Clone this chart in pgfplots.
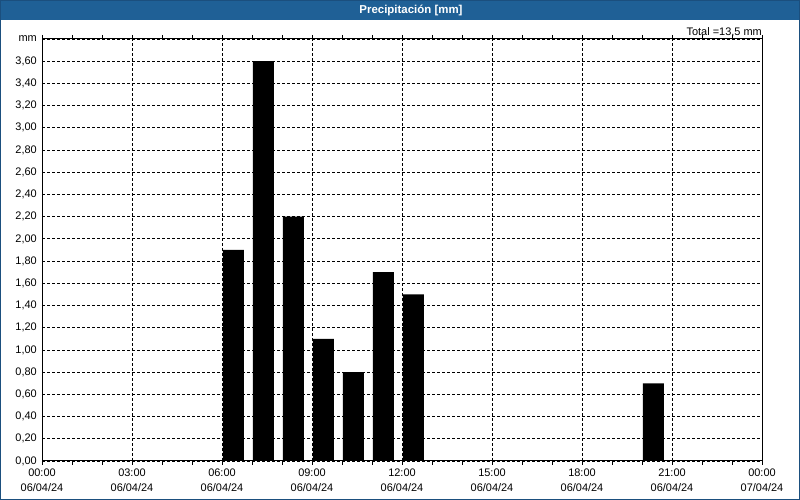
\documentclass[border=0pt]{standalone}
\usepackage{pgfplots}
\pgfplotsset{compat=1.18}
\usepackage{fontspec}
\setmainfont{Liberation Sans}
\definecolor{titlebar}{HTML}{1F6096}
\definecolor{framec}{HTML}{1B4F7E}
\begin{document}
\begin{tikzpicture}[x=1bp,y=1bp]
\path[use as bounding box] (0,0) rectangle (800,500);
\fill[white] (0,0) rectangle (800,500);
\fill[titlebar] (0,480) rectangle (800,500);
\draw[framec,line width=1bp] (0.5,0.5) rectangle (799.5,499.5);
\node[text=white,font=\fontsize{11.5}{13}\selectfont\bfseries] at (411,490) {Precipitación [mm]};
\node[anchor=east,font=\fontsize{11}{13}\selectfont,inner sep=0pt] at (762,468) {Total =13,5 mm};
\begin{axis}[
  at={(42bp,39bp)}, anchor=south west,
  scale only axis, width=720bp, height=422bp,
  xmin=0, xmax=24, ymin=0, ymax=3.8,
  xtick={0,3,...,24},
  xticklabels={{00:00\\06/04/24},{03:00\\06/04/24},{06:00\\06/04/24},{09:00\\06/04/24},{12:00\\06/04/24},{15:00\\06/04/24},{18:00\\06/04/24},{21:00\\06/04/24},{00:00\\07/04/24}},
  xticklabel style={align=center,font=\fontsize{11}{15}\selectfont,inner sep=1pt,yshift=-3bp},
  minor x tick num=2,
  ytick={0,0.2,...,3.81},
  yticklabels={{0,00},{0,20},{0,40},{0,60},{0,80},{1,00},{1,20},{1,40},{1,60},{1,80},{2,00},{2,20},{2,40},{2,60},{2,80},{3,00},{3,20},{3,40},{3,60},{mm}},
  yticklabel style={font=\fontsize{11}{13}\selectfont,inner sep=1pt},
  /pgf/number format/assume math mode=true,
  tick align=outside,
  major tick length=4bp, minor tick length=4bp,
  ytick style={draw=none},
  xtick style={black,line width=0.8bp},
  minor x tick style={black,line width=0.8bp},
  xmajorgrids, ymajorgrids,
  major grid style={black,line width=0.8bp,dash pattern=on 3bp off 2bp},
  axis line style={black,line width=1bp},
]
\addplot[ybar, bar width=0.7, fill=black, draw=none] coordinates {
(6.38,1.9) (7.38,3.6) (8.38,2.2) (9.38,1.1) (10.38,0.8) (11.38,1.7) (12.38,1.5) (20.38,0.7)
};
\end{axis}
\end{tikzpicture}
\end{document}
